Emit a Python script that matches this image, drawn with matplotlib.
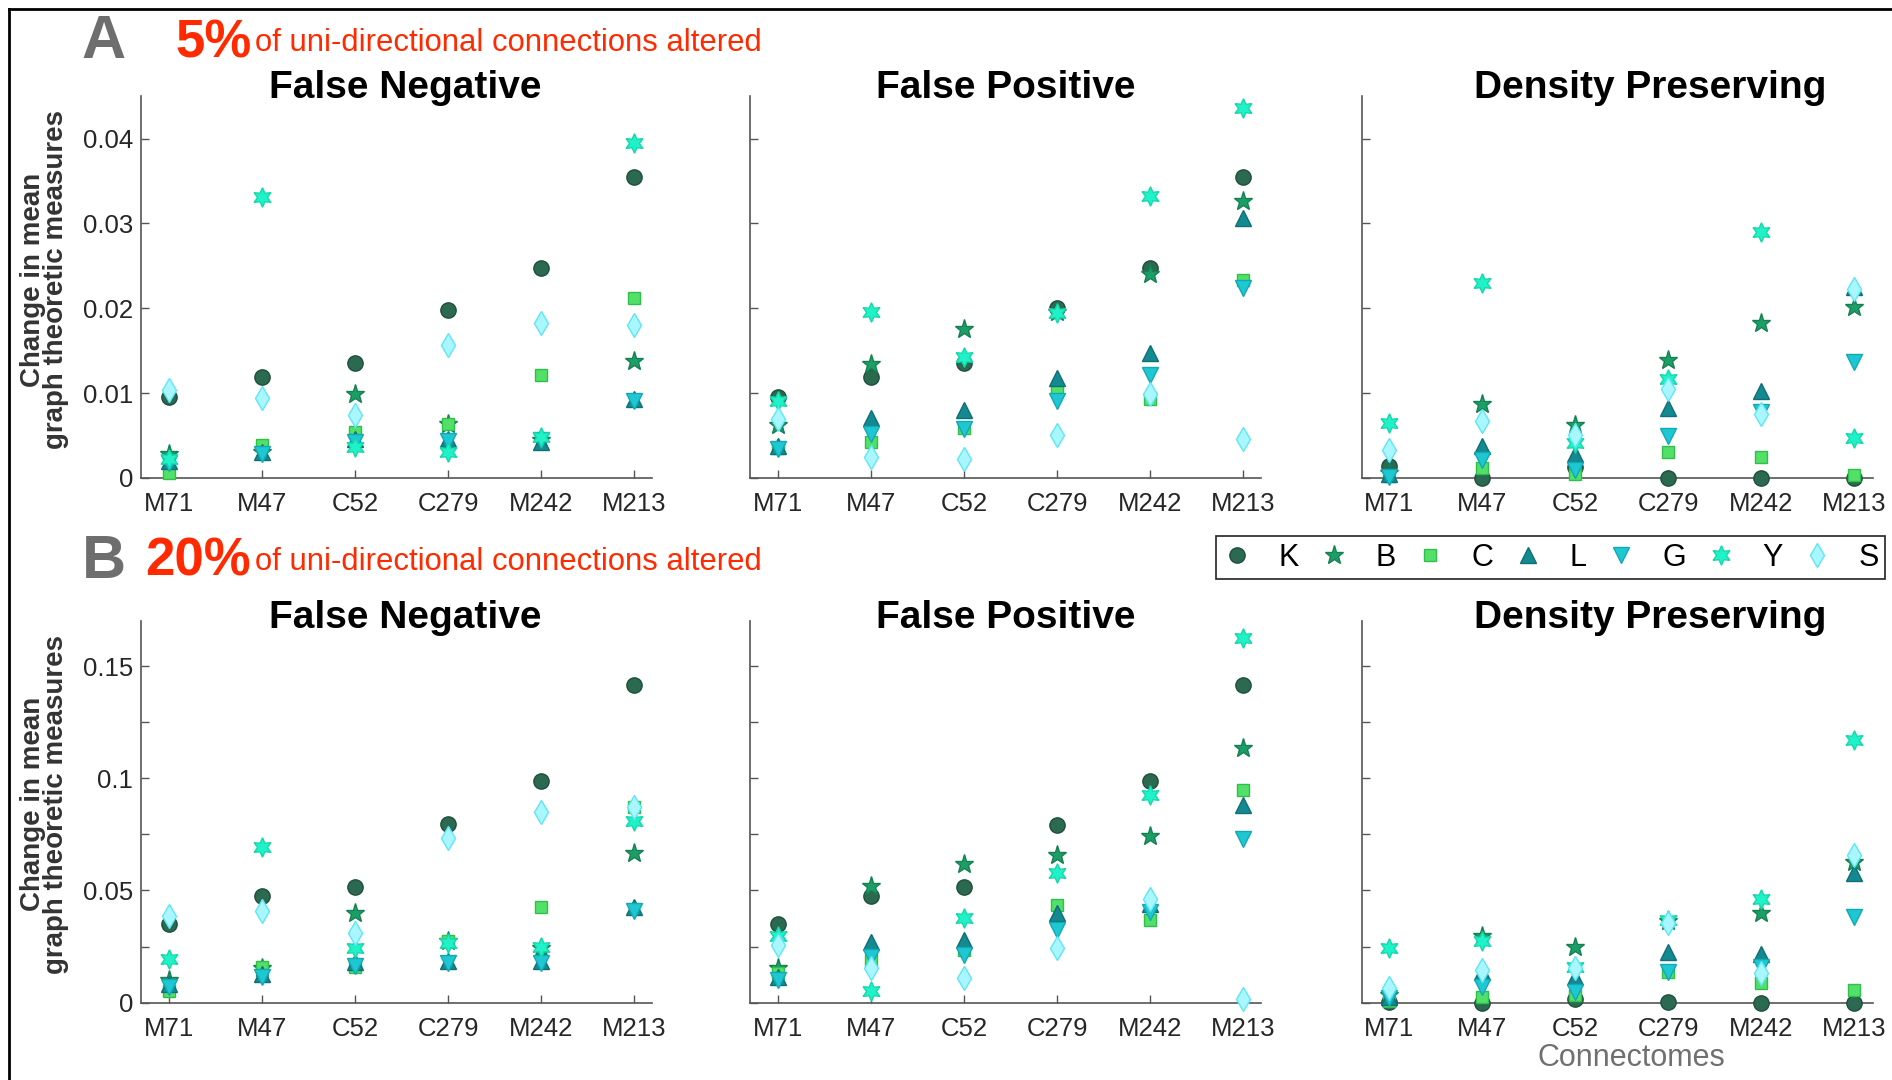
import matplotlib.pyplot as plt
from matplotlib import font_manager
from matplotlib.lines import Line2D

connectomes = ["M71", "M47", "C52", "C279", "M242", "M213"]
methods = ["K", "B", "C", "L", "G", "Y", "S"]

# 5% altered: rows follow `methods`, columns follow `connectomes`
fn5 = [
    [0.0095, 0.0119, 0.0135, 0.0198, 0.0248, 0.0355],
    [0.0028, 0.0030, 0.0099, 0.0063, 0.0045, 0.0138],
    [0.0006, 0.0039, 0.0054, 0.0064, 0.0121, 0.0212],
    [0.0020, 0.0031, 0.0046, 0.0046, 0.0042, 0.0093],
    [0.0018, 0.0028, 0.0042, 0.0043, 0.0044, 0.0091],
    [0.0022, 0.0331, 0.0036, 0.0031, 0.0048, 0.0395],
    [0.0104, 0.0094, 0.0074, 0.0157, 0.0183, 0.0180],
]
fp5 = [
    [0.0095, 0.0119, 0.0135, 0.0200, 0.0248, 0.0355],
    [0.0062, 0.0134, 0.0175, 0.0196, 0.0240, 0.0327],
    [0.0035, 0.0042, 0.0059, 0.0103, 0.0093, 0.0233],
    [0.0038, 0.0070, 0.0080, 0.0118, 0.0147, 0.0306],
    [0.0034, 0.0052, 0.0057, 0.0091, 0.0121, 0.0224],
    [0.0090, 0.0195, 0.0143, 0.0194, 0.0332, 0.0436],
    [0.0069, 0.0025, 0.0022, 0.0050, 0.0099, 0.0046],
]
dp5 = [
    [0.0014, 0.0000, 0.0013, 0.0000, 0.0000, 0.0000],
    [0.0006, 0.0087, 0.0062, 0.0139, 0.0183, 0.0202],
    [0.0002, 0.0012, 0.0005, 0.0031, 0.0025, 0.0003],
    [0.0004, 0.0038, 0.0028, 0.0082, 0.0102, 0.0225],
    [0.0001, 0.0021, 0.0009, 0.0049, 0.0078, 0.0137],
    [0.0065, 0.0230, 0.0041, 0.0117, 0.0290, 0.0047],
    [0.0033, 0.0067, 0.0050, 0.0105, 0.0075, 0.0223],
]

# 20% altered
fn20 = [
    [0.0350, 0.0477, 0.0517, 0.0795, 0.0990, 0.1417],
    [0.0099, 0.0154, 0.0401, 0.0277, 0.0242, 0.0665],
    [0.0051, 0.0159, 0.0159, 0.0274, 0.0428, 0.0870],
    [0.0083, 0.0127, 0.0181, 0.0186, 0.0186, 0.0425],
    [0.0070, 0.0115, 0.0162, 0.0178, 0.0178, 0.0409],
    [0.0194, 0.0695, 0.0245, 0.0266, 0.0250, 0.0811],
    [0.0388, 0.0407, 0.0310, 0.0735, 0.0851, 0.0873],
]
fp20 = [
    [0.0350, 0.0476, 0.0516, 0.0794, 0.0988, 0.1417],
    [0.0153, 0.0519, 0.0617, 0.0656, 0.0743, 0.1137],
    [0.0131, 0.0190, 0.0237, 0.0435, 0.0368, 0.0950],
    [0.0116, 0.0272, 0.0279, 0.0401, 0.0439, 0.0880],
    [0.0101, 0.0205, 0.0212, 0.0323, 0.0405, 0.0731],
    [0.0298, 0.0053, 0.0377, 0.0580, 0.0927, 0.1625],
    [0.0257, 0.0153, 0.0111, 0.0245, 0.0460, 0.0016],
]
dp20 = [
    [0.0004, 0.0000, 0.0015, 0.0004, 0.0000, 0.0000],
    [0.0034, 0.0297, 0.0246, 0.0365, 0.0401, 0.0628],
    [0.0009, 0.0027, 0.0034, 0.0138, 0.0086, 0.0056],
    [0.0027, 0.0138, 0.0113, 0.0224, 0.0217, 0.0576],
    [0.0019, 0.0071, 0.0049, 0.0138, 0.0157, 0.0380],
    [0.0245, 0.0276, 0.0160, 0.0368, 0.0461, 0.1172],
    [0.0064, 0.0145, 0.0153, 0.0353, 0.0131, 0.0657],
]

titles = ["False Negative", "False Positive", "Density Preserving"]
title_x = [0.517, 0.5, 0.564]

# marker style per method: (marker, face, edge, size)
styles = {
    "K": ("o", "#2b6a50", "#1f4f3b", 11),
    "B": ("*", "#1c9e68", "#158050", 14),
    "C": ("s", "#52e068", "#2fbf4c", 9),
    "L": ("^", "#148a90", "#0d7078", 11),
    "G": ("v", "#1ec8d2", "#12a8b4", 11),
    "Y": ((6, 1, 0), "#1ef2c6", "#14d8ae", 14),
    "S": ("d", "#aaf6ff", "#5ee6f6", 12),
}


def pick_font(names):
    have = {f.name for f in font_manager.fontManager.ttflist}
    for n in names:
        if n in have:
            return n
    return "DejaVu Sans"


narrow = pick_font(["Liberation Sans Narrow", "DejaVu Sans Condensed", "Liberation Sans"])
sans = pick_font(["Liberation Sans", "Arial", "DejaVu Sans"])
plt.rcParams["font.family"] = sans

fig = plt.figure(figsize=(18.92, 10.8), dpi=100)

lefts = [141.4 / 1892, 750.4 / 1892, 1361.5 / 1892]
width = 511 / 1892
rows = [
    dict(bottom=1 - 477.8 / 1080, data=[fn5, fp5, dp5], ymax=0.045, title_pad=-1.5,
         major=[0, 0.01, 0.02, 0.03, 0.04], minor=[], labels=["0", "0.01", "0.02", "0.03", "0.04"]),
    dict(bottom=1 - 1002.7 / 1080, data=[fn20, fp20, dp20], ymax=0.17, title_pad=-5,
         major=[0, 0.05, 0.1, 0.15], minor=[0.025, 0.075, 0.125], labels=["0", "0.05", "0.1", "0.15"]),
]
height = 381.5 / 1080
axcol = "#262626"

handles = []
for r, row in enumerate(rows):
    for c in range(3):
        ax = fig.add_axes([lefts[c], row["bottom"], width, height])
        vals = row["data"][c]
        for m, name in enumerate(methods):
            mk, fc, ec, ms = styles[name]
            h, = ax.plot(range(1, 7), vals[m], linestyle="none", marker=mk, markersize=ms,
                         markerfacecolor=fc, markeredgecolor=ec, markeredgewidth=1.0,
                         clip_on=False, zorder=3, label=name)
            if r == 0 and c == 0:
                handles.append(h)
        ax.set_xlim(0.7, 6.2)
        ax.set_ylim(0, row["ymax"])
        ax.set_xticks(range(1, 7))
        ax.set_xticklabels(connectomes, fontfamily=narrow, fontsize=18.5, color=axcol)
        ax.set_yticks(row["major"])
        ax.set_yticks(row["minor"], minor=True)
        if c == 0:
            ax.set_yticklabels(row["labels"], fontfamily=narrow, fontsize=18.5, color=axcol)
        else:
            ax.set_yticklabels([])
        ax.tick_params(axis="both", which="both", direction="in", length=6, width=1.0,
                       colors="#555555", labelcolor=axcol)
        ax.tick_params(axis="x", pad=10)
        ax.tick_params(axis="y", pad=6)
        for s in ["top", "right"]:
            ax.spines[s].set_visible(False)
        for s in ["left", "bottom"]:
            ax.spines[s].set_color("#555555")
            ax.spines[s].set_linewidth(1.2)
        ax.set_title(titles[c], fontsize=28, fontweight="bold", x=title_x[c], y=1.0,
                     pad=row["title_pad"])
        if c == 0:
            ax.set_ylabel("Change in mean\ngraph theoretic measures", fontsize=20,
                          fontweight="bold", color="#333333", linespacing=0.85)
            ax.yaxis.set_label_coords(-0.142, 0.52)

fig.text(1631 / 1892, 1 - 1058 / 1080, "Connectomes", fontsize=22, color="#707070",
         ha="center", va="center")

# panel headings
red = "#ff2a00"
for y, letter, pct, px in [(1 - 43 / 1080, "A", "5%", 175 / 1892), (1 - 562 / 1080, "B", "20%", 145 / 1892)]:
    fig.text(104 / 1892, y, letter, fontsize=44, fontweight="bold", color="#6e6e6e",
             ha="center", va="center")
    fig.text(px, y, pct, fontsize=38, fontweight="bold", color=red, ha="left", va="center",
             fontfamily=narrow)
    fig.text(255 / 1892, y, "of uni-directional connections altered", fontsize=22.3,
             color=red, ha="left", va="center", fontfamily=narrow)

leg = fig.legend(handles=handles, labels=methods, loc="center", ncol=7,
                 bbox_to_anchor=(1550.5 / 1892, 1 - 557.5 / 1080), frameon=True,
                 fancybox=False, edgecolor="#222222", framealpha=1,
                 handlelength=1.0, handletextpad=0.85, columnspacing=0.64, borderpad=0.2,
                 borderaxespad=0, prop={"family": sans, "size": 22})
leg.get_frame().set_linewidth(1.2)

# outer frame (top and left edges)
fig.add_artist(Line2D([9 / 1892, 1], [1 - 9 / 1080, 1 - 9 / 1080], color="black", lw=2,
                      transform=fig.transFigure))
fig.add_artist(Line2D([9 / 1892, 9 / 1892], [0, 1 - 9 / 1080], color="black", lw=2,
                      transform=fig.transFigure))

fig.savefig("out.png", dpi=100)
